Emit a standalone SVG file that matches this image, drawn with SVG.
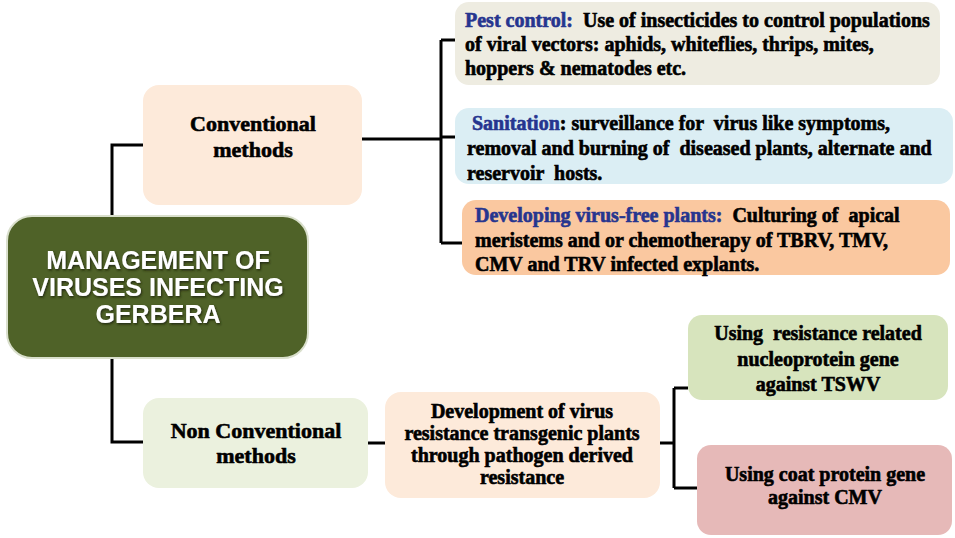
<svg xmlns="http://www.w3.org/2000/svg" width="955" height="538" viewBox="0 0 955 538">
<defs>
<filter id="ts" x="-10%" y="-10%" width="120%" height="130%">
<feDropShadow dx="1" dy="1.5" stdDeviation="0.8" flood-color="#1a2208" flood-opacity="0.9"/>
</filter>
</defs>
<style>
text{white-space:pre}
.lbl{font-family:"Liberation Serif","Times New Roman",serif;font-weight:bold;fill:#000;stroke:#000;stroke-width:0.6;text-anchor:middle}
.body{font-family:"Liberation Serif","Times New Roman",serif;font-weight:bold;fill:#000;stroke:#000;stroke-width:0.6;font-size:20px}
.hd{fill:#26358f;stroke:#26358f}
.main{font-family:"Liberation Sans",Arial,sans-serif;font-weight:bold;fill:#fff;font-size:25px;text-anchor:middle}
.conn{fill:none;stroke:#000;stroke-width:3}
</style>
<rect width="955" height="538" fill="#fff"/>
<g id="connectors">
<path class="conn" d="M112,216 V145 H143"/>
<path class="conn" d="M112,358 V442 H143"/>
<path class="conn" d="M362,139 H441"/>
<path class="conn" d="M441,40 V243"/>
<path class="conn" d="M441,40 H455"/>
<path class="conn" d="M441,137 H455"/>
<path class="conn" d="M441,243 H462"/>
<path class="conn" d="M368,443 H385"/>
<path class="conn" d="M660,443 H674"/>
<path class="conn" d="M674,388 V488"/>
<path class="conn" d="M674,388 H688"/>
<path class="conn" d="M674,488 H697"/>
</g>
<g id="main">
<rect x="7" y="216" width="301" height="142" rx="25" fill="#4f6228" stroke="#d9dfcc" stroke-width="2"/>
<g filter="url(#ts)">
<text class="main" x="158" y="269">MANAGEMENT OF</text>
<text class="main" x="158" y="296">VIRUSES INFECTING</text>
<text class="main" x="158" y="323">GERBERA</text>
</g>
</g>
<g id="conventional">
<rect x="143" y="85" width="219" height="120" rx="16" fill="#fdeada"/>
<text class="lbl" x="253" y="131" font-size="22">Conventional</text>
<text class="lbl" x="253" y="157" font-size="22">methods</text>
</g>
<g id="pest">
<rect x="455" y="2" width="485" height="83" rx="14" fill="#eeece1"/>
<text class="body" x="465" y="27"><tspan class="hd">Pest control:</tspan>  Use of insecticides to control populations</text>
<text class="body" x="465" y="51">of viral vectors: aphids, whiteflies, thrips, mites,</text>
<text class="body" x="465" y="75">hoppers &amp; nematodes etc.</text>
</g>
<g id="sanitation">
<rect x="455" y="108" width="498" height="76" rx="14" fill="#dbeef4"/>
<text class="body" x="467" y="130"> <tspan class="hd">Sanitation</tspan>: surveillance for  virus like symptoms,</text>
<text class="body" x="467" y="155">removal and burning of  diseased plants, alternate and</text>
<text class="body" x="467" y="180">reservoir  hosts.</text>
</g>
<g id="virusfree">
<rect x="462" y="200" width="488" height="75" rx="14" fill="#fac8a0"/>
<text class="body" x="475" y="222"><tspan class="hd">Developing virus-free plants:</tspan>  Culturing of  apical</text>
<text class="body" x="475" y="247">meristems and or chemotherapy of TBRV, TMV,</text>
<text class="body" x="475" y="271">CMV and TRV infected explants.</text>
</g>
<g id="nonconventional">
<rect x="143" y="398" width="225" height="90" rx="16" fill="#ebf1de"/>
<text class="lbl" x="256" y="438" font-size="22">Non Conventional</text>
<text class="lbl" x="256" y="463" font-size="22">methods</text>
</g>
<g id="development">
<rect x="385" y="392" width="275" height="106" rx="16" fill="#fdeada"/>
<text class="lbl" x="522" y="418" font-size="20">Development of virus</text>
<text class="lbl" x="522" y="440" font-size="20">resistance transgenic plants</text>
<text class="lbl" x="522" y="462" font-size="20">through pathogen derived</text>
<text class="lbl" x="522" y="484" font-size="20">resistance</text>
</g>
<g id="tswv">
<rect x="688" y="315" width="260" height="85" rx="14" fill="#d7e4bd"/>
<text class="lbl" x="818" y="340" font-size="20">Using  resistance related</text>
<text class="lbl" x="818" y="366" font-size="20">nucleoprotein gene</text>
<text class="lbl" x="818" y="391" font-size="20">against TSWV</text>
</g>
<g id="cmv">
<rect x="697" y="445" width="255" height="90" rx="14" fill="#e6b9b8"/>
<text class="lbl" x="825" y="481" font-size="20">Using coat protein gene</text>
<text class="lbl" x="825" y="504" font-size="20">against CMV</text>
</g>
</svg>
